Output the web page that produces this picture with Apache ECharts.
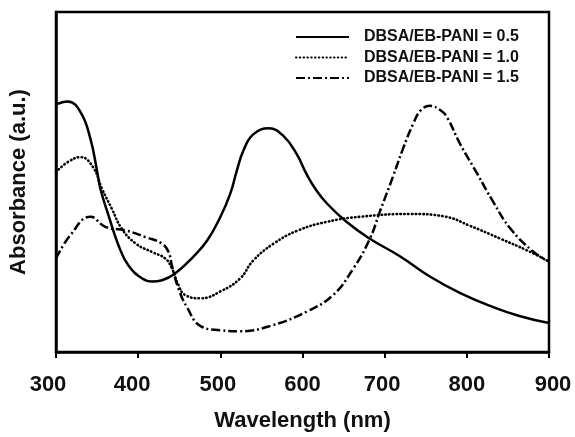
<!DOCTYPE html>
<html>
<head>
<meta charset="utf-8">
<script src="https://cdn.jsdelivr.net/npm/echarts@6/dist/echarts.min.js"></script>
<style>
  html, body { margin: 0; padding: 0; background: #fff; }
  #chart { width: 575px; height: 437px; }
</style>
</head>
<body>
<div id="chart"></div>
<script>
// absorbance in arbitrary units (0..100)
var seriesNames = ['DBSA/EB-PANI = 0.5', 'DBSA/EB-PANI = 1.0', 'DBSA/EB-PANI = 1.5'];
var xTicks = [300, 400, 500, 600, 700, 800, 900];

var wl05 = [300, 314, 330, 342, 350, 354, 364, 376, 388, 405, 417, 429, 445, 467, 484, 500, 512, 520, 528, 540, 559, 577, 593, 605, 617, 630, 652, 680, 719, 755, 792, 832, 865, 900];
var abs05 = [72.8, 73.7, 70.5, 62.6, 53.2, 48.0, 40.1, 31.4, 25.5, 21.6, 20.7, 21.1, 23.1, 28.0, 32.8, 39.7, 46.5, 53.3, 59.2, 64.0, 65.8, 63.5, 58.2, 52.3, 47.5, 43.6, 38.6, 33.6, 28.1, 22.2, 17.3, 13.2, 10.5, 8.5];

var wl10 = [300, 314, 330, 345, 356, 368, 380, 397, 417, 433, 441, 449, 457, 476, 500, 524, 540, 565, 594, 630, 671, 731, 772, 804, 841, 874, 900];
var abs10 = [52.9, 55.8, 57.3, 54.4, 48.0, 42.1, 36.3, 31.9, 29.4, 27.5, 24.6, 19.7, 16.8, 15.8, 17.8, 21.6, 26.9, 31.9, 35.7, 38.3, 39.8, 40.6, 39.9, 37.1, 33.3, 29.8, 26.6];

var wl15 = [300, 317, 342, 360, 384, 409, 429, 437, 441, 449, 460, 476, 500, 524, 564, 606, 637, 662, 682, 694, 710, 722, 735, 744, 755, 768, 776, 792, 813, 832, 853, 881, 900];
var abs15 = [27.5, 34.2, 39.8, 36.8, 35.8, 33.8, 31.9, 29.4, 25.5, 18.7, 12.9, 7.6, 6.4, 6.1, 7.9, 12.0, 16.7, 24.6, 33.3, 41.2, 51.5, 59.6, 67.3, 71.1, 72.4, 71.1, 69.0, 61.1, 52.3, 44.2, 36.3, 29.5, 26.6];

function pairs(xs, ys) {
  var out = [];
  for (var i = 0; i < xs.length; i++) {
    out.push([xs[i], ys[i]]);
  }
  return out;
}

var font = 'Liberation Sans, Arial, sans-serif';

// the tick labels in the original sit a little off their ticks
var labelRich = {
  a: { padding: [0, 16, 0, 0] },
  b: { padding: [0, 12, 0, 0] },
  c: { padding: [0, 5, 0, 0] },
  d: { padding: [0, 0, 0, 0] },
  e: { padding: [0, 5, 0, 0] },
  f: { padding: [0, 0, 0, 0] },
  g: { padding: [0, 0, 0, 8] }
};
var labelKeys = ['a', 'b', 'c', 'd', 'e', 'f', 'g'];

var chart = echarts.init(document.getElementById('chart'));

var option = {
  animation: false,
  backgroundColor: '#fff',
  grid: {
    left: 56,
    right: 26,
    top: 12,
    bottom: 83,
    show: true,
    borderColor: '#000',
    borderWidth: 2.5
  },
  legend: {
    orient: 'vertical',
    left: 290,
    top: 24,
    itemWidth: 53,
    itemHeight: 10,
    itemGap: 4.5,
    data: seriesNames,
    itemStyle: { opacity: 0 },
    textStyle: {
      fontFamily: font,
      fontWeight: 'bold',
      fontSize: 16,
      lineHeight: 16,
      color: '#111',
      padding: [0, 0, 0, 10]
    }
  },
  xAxis: {
    type: 'value',
    min: 300,
    max: 900,
    interval: 100,
    name: 'Wavelength (nm)',
    nameLocation: 'middle',
    nameGap: 58,
    nameTextStyle: {
      fontFamily: font,
      fontWeight: 'bold',
      fontSize: 22,
      color: '#111'
    },
    axisLine: { lineStyle: { color: '#000', width: 2.5 } },
    axisTick: { show: true, length: 6, lineStyle: { color: '#000', width: 2 } },
    axisLabel: {
      margin: 22,
      fontFamily: font,
      fontWeight: 'bold',
      fontSize: 22,
      color: '#111',
      rich: labelRich,
      formatter: function (v) {
        var i = xTicks.indexOf(v);
        return i >= 0 ? '{' + labelKeys[i] + '|' + v + '}' : '';
      }
    },
    splitLine: { show: false }
  },
  yAxis: {
    type: 'value',
    min: 0,
    max: 100,
    name: 'Absorbance (a.u.)',
    nameLocation: 'middle',
    nameGap: 26,
    nameTextStyle: {
      fontFamily: font,
      fontWeight: 'bold',
      fontSize: 22,
      color: '#111'
    },
    axisLine: { show: true, lineStyle: { color: '#000', width: 2.5 } },
    axisTick: { show: false },
    axisLabel: { show: false },
    splitLine: { show: false }
  },
  series: [
    {
      name: seriesNames[0],
      type: 'line',
      smooth: 0.45,
      symbol: 'none',
      data: pairs(wl05, abs05),
      lineStyle: { color: '#000', width: 2.5 },
      itemStyle: { color: '#000' }
    },
    {
      name: seriesNames[1],
      type: 'line',
      smooth: 0.45,
      symbol: 'none',
      data: pairs(wl10, abs10),
      lineStyle: { color: '#000', width: 2.6, type: [0.5, 3.3], cap: 'round' },
      itemStyle: { color: '#000' }
    },
    {
      name: seriesNames[2],
      type: 'line',
      smooth: 0.45,
      symbol: 'none',
      data: pairs(wl15, abs15),
      lineStyle: { color: '#000', width: 2.5, type: [9, 3, 2, 3] },
      itemStyle: { color: '#000' }
    }
  ]
};

chart.setOption(option);
</script>
</body>
</html>
